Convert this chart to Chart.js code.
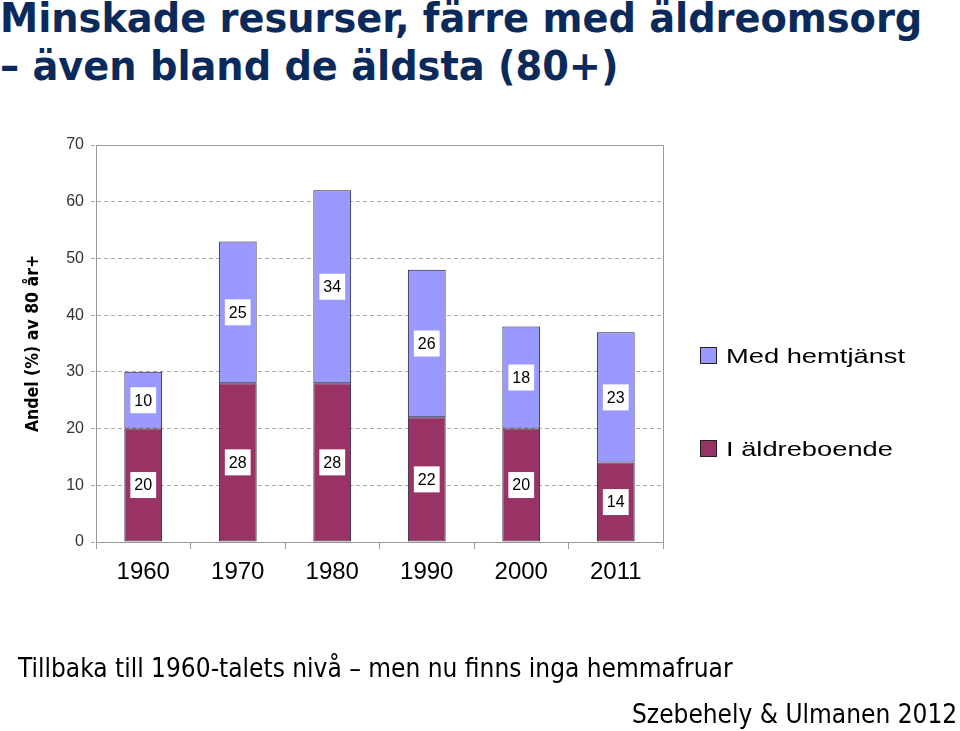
<!DOCTYPE html>
<html>
<head>
<meta charset="utf-8">
<script src="https://cdn.jsdelivr.net/npm/chart.js@4"></script>
<style>
  body { margin: 0; background: #fff; width: 960px; height: 731px; overflow: hidden; position: relative; }
  #chart { position: absolute; left: 0; top: 0; }
  .title { position: absolute; left: 0; font-family: "DejaVu Sans Condensed", "DejaVu Sans", sans-serif; font-weight: bold; color: #0b2a5c; font-size: 40px; white-space: nowrap; line-height: 1; transform: scaleX(1.065); transform-origin: left top; }
  .legend { position: absolute; left: 700px; font-family: "Liberation Sans", Arial, sans-serif; font-size: 21px; color: #000; white-space: nowrap; }
  .legend span.box { display: inline-block; width: 15px; height: 15px; border: 1px solid #222; margin-right: 9px; vertical-align: -1px; }
  .legend span.txt { display: inline-block; transform: scaleX(1.3); transform-origin: left center; }
  .note { position: absolute; font-family: "Liberation Sans Narrow", "DejaVu Sans Condensed", sans-serif; font-size: 26px; color: #000; white-space: nowrap; line-height: 1; }
</style>
</head>
<body>
<div class="title" style="top:-2px">Minskade resurser, färre med äldreomsorg</div>
<div class="title" style="top:46px">– även bland de äldsta (80+)</div>
<canvas id="chart" width="960" height="731"></canvas>
<div class="legend" style="top:344px"><span class="box" style="background:#9999ff"></span><span class="txt">Med hemtjänst</span></div>
<div class="legend" style="top:437px"><span class="box" style="background:#993366"></span><span class="txt">I äldreboende</span></div>
<div class="note" style="left:18px; top:655px">Tillbaka till 1960-talets nivå – men nu finns inga hemmafruar</div>
<div class="note" style="left:632px; top:701px">Szebehely &amp; Ulmanen 2012</div>
<script>
// Andel av 80+ med äldreomsorg, per år
const years = ['1960', '1970', '1980', '1990', '2000', '2011'];
const boende = [20, 28, 28, 22, 20, 14];      // I äldreboende
const hemtjanst = [10, 25, 34, 26, 18, 23];   // Med hemtjänst
const yTicks = [0, 10, 20, 30, 40, 50, 60, 70];

// white boxes with the value inside each segment
const segmentLabels = {
  id: 'segmentLabels',
  afterDatasetsDraw(chart) {
    const ctx = chart.ctx;
    ctx.save();
    ctx.font = '16px "Liberation Sans", Arial, sans-serif';
    ctx.textAlign = 'center';
    ctx.textBaseline = 'middle';
    chart.data.datasets.forEach((ds, i) => {
      chart.getDatasetMeta(i).data.forEach((bar, j) => {
        const txt = String(ds.data[j]);
        const cy = (bar.y + bar.base) / 2;
        const w = ctx.measureText(txt).width + 8;
        ctx.fillStyle = '#fff';
        ctx.fillRect(bar.x - w / 2, cy - 13, w, 26);
        ctx.fillStyle = '#000';
        ctx.fillText(txt, bar.x, cy + 1);
      });
    });
    ctx.restore();
  }
};

// grey frame on top and right of the plot
const plotFrame = {
  id: 'plotFrame',
  afterDraw(chart) {
    const a = chart.chartArea, ctx = chart.ctx;
    ctx.save();
    ctx.strokeStyle = '#999';
    ctx.lineWidth = 1;
    ctx.beginPath();
    ctx.moveTo(a.left, a.top + 0.5);
    ctx.lineTo(a.right + 0.5, a.top + 0.5);
    ctx.lineTo(a.right + 0.5, a.bottom);
    ctx.stroke();
    ctx.restore();
  }
};

new Chart(document.getElementById('chart'), {
  type: 'bar',
  data: {
    labels: years,
    datasets: [
      {
        label: 'I äldreboende',
        data: boende,
        backgroundColor: '#993366',
        borderColor: '#1c1c3a',
        borderWidth: 1,
        borderSkipped: false,
        barPercentage: 0.4,
        categoryPercentage: 1
      },
      {
        label: 'Med hemtjänst',
        data: hemtjanst,
        backgroundColor: '#9999ff',
        borderColor: '#1c1c3a',
        borderWidth: 1,
        borderSkipped: false,
        barPercentage: 0.4,
        categoryPercentage: 1
      }
    ]
  },
  options: {
    responsive: false,
    animation: false,
    layout: { padding: { left: 20, top: 145, right: 297, bottom: 0 } },
    plugins: {
      legend: { display: false },
      tooltip: { enabled: false }
    },
    scales: {
      x: {
        stacked: true,
        afterFit: (s) => { s.height = 189; },
        grid: { offset: true, drawOnChartArea: false, drawTicks: true, tickLength: 7, color: '#999' },
        border: { color: '#999' },
        ticks: { color: '#000', padding: 9, font: { family: '"Liberation Sans", Arial, sans-serif', size: 24 } }
      },
      y: {
        stacked: true,
        min: 0,
        max: 70,
        afterFit: (s) => { s.width = 76; },
        afterBuildTicks: (s) => { s.ticks = yTicks.map(v => ({ value: v })); },
        grid: { color: '#aaa', tickLength: 5, tickBorderDash: [4, 3] },
        border: { color: '#999', dash: [4, 3] },
        ticks: { color: '#333', padding: 7, font: { family: '"Liberation Sans", Arial, sans-serif', size: 16 } },
        title: {
          display: true,
          text: 'Andel (%) av 80 år+',
          color: '#000',
          padding: { top: 3, bottom: 0 },
          font: { family: '"Liberation Sans Narrow", "DejaVu Sans Condensed", sans-serif', size: 17.5, weight: 'bold' }
        }
      }
    }
  },
  plugins: [segmentLabels, plotFrame]
});
</script>
</body>
</html>
